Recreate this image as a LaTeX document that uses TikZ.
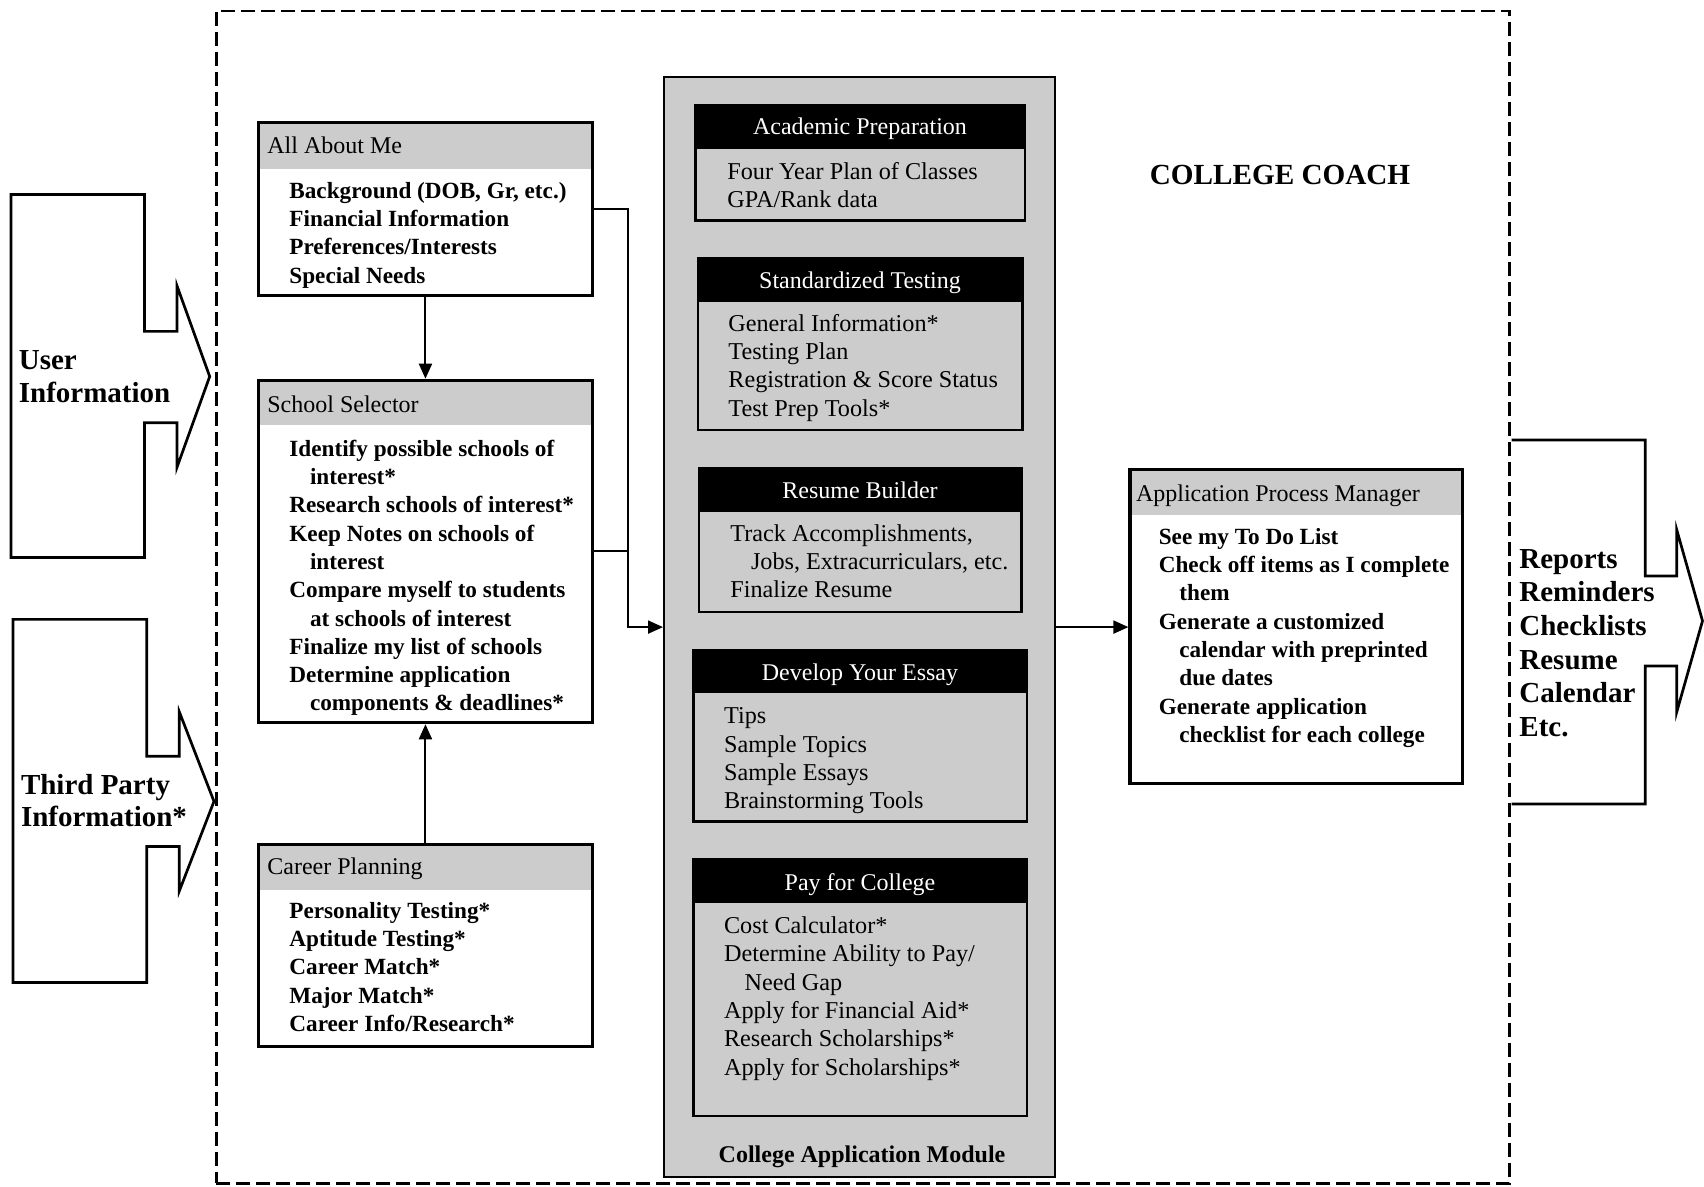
\documentclass[tikz,border=0pt]{standalone}
\usepackage{fontspec}
\setmainfont{Liberation Serif}
\usetikzlibrary{arrows.meta,fit}
\definecolor{lgray}{RGB}{204,204,204}
\newcommand\ind{\hspace*{10.3pt}}
% prefix, x, y of first baseline, line step, style, items
\newcommand\listlines[6]{%
  \foreach \t [count=\i] in {#6} {%
    \node[#5, anchor=base west] (#1\i) at (#2, {#3+(\i-1)*#4}) {\t};}}
\begin{document}
\begin{tikzpicture}[x=0.5pt, y=-0.5pt,
  itemb/.style={font=\fontsize{11.6}{14}\selectfont\bfseries, inner sep=0pt},
  itemr/.style={font=\fontsize{12.1}{14}\selectfont, inner sep=0pt},
  head/.style={font=\fontsize{12}{14}\selectfont, inner sep=0pt},
  big/.style={font=\fontsize{14.5}{16}\selectfont\bfseries, inner sep=0pt},
  obox/.style={draw, line width=1.6pt, inner sep=0pt},
  ibox/.style={draw, line width=1.2pt, inner sep=0pt},
  arr/.style={line width=1pt, -{Triangle[length=7.5pt,width=6.5pt]}},
  conn/.style={line width=1pt},
  bigarrow/.style={draw, line width=1.35pt, line join=miter},
  coachbox/.style={draw, line width=1.25pt, dash pattern=on 7pt off 3pt, inner sep=0pt}]
\useasboundingbox (0,0) rectangle (1704,1187);

% input arrows
\draw[bigarrow] (10.9,194.5) -- (144.5,194.5) -- (144.5,331.4) -- (177,331.4) -- (177,285.8)
  -- (209.7,376.5) -- (177,467.3) -- (177,422.7) -- (144.5,422.7) -- (144.5,557.5) -- (10.9,557.5) -- cycle;
\draw[bigarrow] (13,619.4) -- (146.7,619.4) -- (146.7,756.3) -- (179.3,756.3) -- (179.3,711.8)
  -- (214,801.4) -- (179.3,891) -- (179.3,846.5) -- (146.7,846.5) -- (146.7,982.4) -- (13,982.4) -- cycle;
% output arrow
\draw[bigarrow] (1511.6,440) -- (1645.3,440) -- (1645.3,576) -- (1676.8,576) -- (1676.8,530)
  -- (1702.5,620.9) -- (1676.8,711.8) -- (1676.8,666) -- (1645.3,666) -- (1645.3,804) -- (1511.6,804);

% outer dashed system box
\node[coachbox, fit={(216.3,10.9) (1509.4,1183.4)}] (coach) {};
\node[font=\fontsize{14.6}{16}\selectfont\bfseries, inner sep=0pt, anchor=base] (cc) at (1280,184.5) {COLLEGE COACH};

% left boxes
\fill[lgray] (258.6,122.8) rectangle (592.3,169.5);
\node[obox, fit={(258.6,122.8) (592.3,295.6)}] (aam) {};
\fill[lgray] (258.6,380.3) rectangle (592.3,424.9);
\node[obox, fit={(258.6,380.3) (592.3,722.7)}] (ss) {};
\fill[lgray] (258.6,844.4) rectangle (592.3,890);
\node[obox, fit={(258.6,844.4) (592.3,1046.5)}] (cp) {};

\node[head, anchor=base west] (aamt) at (267,154) {All About Me};
\node[head, anchor=base west] (sst) at (267,413) {School Selector};
\node[head, anchor=base west] (cpt) at (267,874.5) {Career Planning};

\listlines{aami}{289}{198.2}{28.3}{itemb}{{Background (DOB, Gr, etc.)},{Financial Information},{Preferences/Interests},{Special Needs}}
\listlines{ssi}{289}{456.2}{28.3}{itemb}{{Identify possible schools of},{\ind interest*},{Research schools of interest*},{Keep Notes on schools of},{\ind interest},{Compare myself to students},{\ind at schools of interest},{Finalize my list of schools},{Determine application},{\ind components \& deadlines*}}
\listlines{cpi}{289}{918.2}{28.3}{itemb}{{Personality Testing*},{Aptitude Testing*},{Career Match*},{Major Match*},{Career Info/Research*}}

% College application module
\node[draw, line width=1pt, fill=lgray, inner sep=0pt, fit={(664,77.2) (1055.2,1177)}] (cam) {};

\node[ibox, fit={(695.5,105.4) (1024.8,220.6)}] (ap) {};
\fill (695.5,105.4) rectangle (1024.8,148.9);
\node[ibox, fit={(697.7,258.6) (1022.6,430.3)}] (st) {};
\fill (697.7,258.6) rectangle (1022.6,302.1);
\node[ibox, fit={(698.7,468.4) (1021.5,611.8)}] (rb) {};
\fill (698.7,468.4) rectangle (1021.5,511.8);
\node[ibox, fit={(693.3,649.8) (1027,821.5)}] (de) {};
\fill (693.3,649.8) rectangle (1027,693.3);
\node[ibox, fit={(693.3,859.6) (1027,1116)}] (pc) {};
\fill (693.3,859.6) rectangle (1027,903);

\node[head, text=white, anchor=base] (apt) at (860,135) {Academic Preparation};
\node[head, text=white, anchor=base] (stt) at (860,289) {Standardized Testing};
\node[head, text=white, anchor=base] (rbt) at (860,498.5) {Resume Builder};
\node[head, text=white, anchor=base] (det) at (860,681) {Develop Your Essay};
\node[head, text=white, anchor=base] (pct) at (860,890) {Pay for College};

\listlines{api}{727}{179.2}{28.3}{itemr}{{Four Year Plan of Classes},{GPA/Rank data}}
\listlines{sti}{728}{331.4}{28.3}{itemr}{{General Information*},{Testing Plan},{Registration \& Score Status},{Test Prep Tools*}}
\listlines{rbi}{730}{541.2}{28.3}{itemr}{{Track Accomplishments,},{\ind Jobs, Extracurriculars, etc.},{Finalize Resume}}
\listlines{dei}{723.7}{723.7}{28.3}{itemr}{{Tips},{Sample Topics},{Sample Essays},{Brainstorming Tools}}
\listlines{pci}{723.7}{933.5}{28.3}{itemr}{{Cost Calculator*},{Determine Ability to Pay/},{\ind Need Gap},{Apply for Financial Aid*},{Research Scholarships*},{Apply for Scholarships*}}

\node[font=\fontsize{12}{14}\selectfont\bfseries, inner sep=0pt, anchor=base] (caml) at (862,1162) {College Application Module};

% Application process manager
\fill[lgray] (1130,469.5) rectangle (1462.7,515);
\node[obox, fit={(1130,469.5) (1462.7,783.5)}] (apm) {};
\node[head, anchor=base west] (apmt) at (1135.6,502) {Application Process Manager};
\listlines{apmi}{1158.4}{544.4}{28.3}{itemb}{{See my To Do List},{Check off items as I complete},{\ind them},{Generate a customized},{\ind calendar with preprinted},{\ind due dates},{Generate application},{\ind checklist for each college}}

% side texts
\node[big, anchor=base west] (ui1) at (18.5,370) {User};
\node[big, anchor=base west] (ui2) at (18.5,402.6) {Information};
\node[big, anchor=base west] (tp1) at (20.6,794) {Third Party};
\node[big, anchor=base west] (tp2) at (20.6,826.6) {Information*};
\listlines{out}{1519}{568}{33.7}{big}{{Reports},{Reminders},{Checklists},{Resume},{Calendar},{Etc.}}

% connectors
\coordinate (j) at (628,627.1);
\draw[arr] (aam) -- (ss);
\draw[arr] (cp) -- (ss);
\draw[arr] (aam.east) -| (j) -- (cam.west);
\draw[conn] (ss.east) -- (ss.east -| j);
\draw[arr] (cam.east) -- (apm.west |- cam.east);
\end{tikzpicture}
\end{document}
